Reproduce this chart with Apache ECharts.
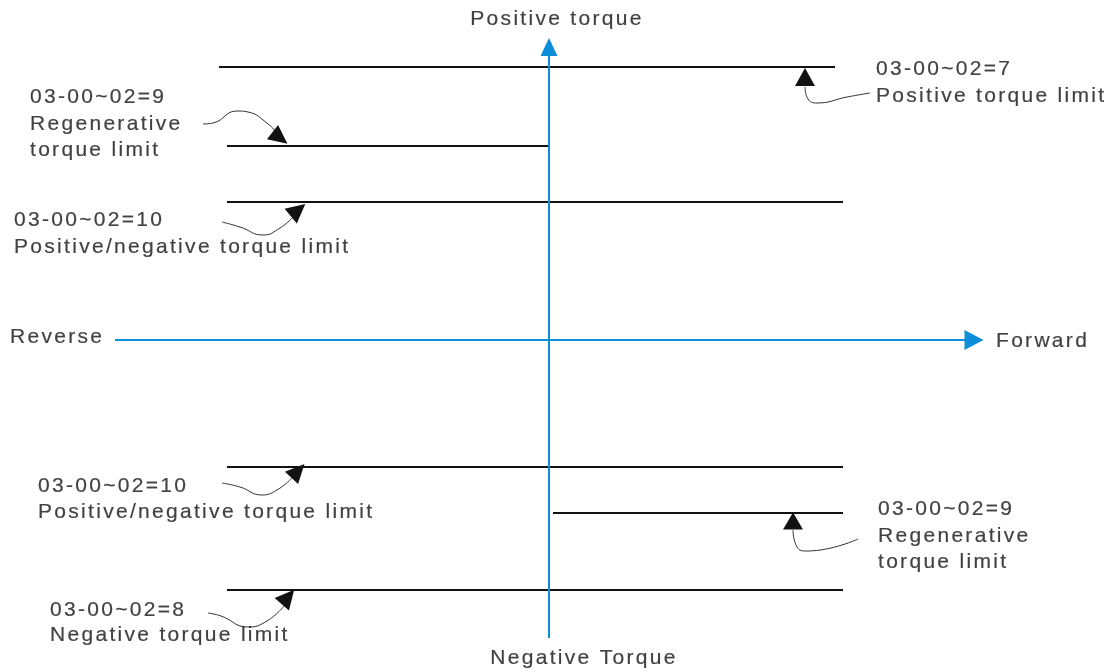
<!DOCTYPE html>
<html>
<head>
<meta charset="utf-8">
<script src="https://cdn.jsdelivr.net/npm/echarts@6/dist/echarts.min.js"></script>
<style>
  html, body { margin: 0; padding: 0; background: #fff; }
  #chart { width: 1110px; height: 669px; }
</style>
</head>
<body>
<div id="chart"></div>
<script>
// diagram space = 1110 x 669, y grows downwards
var limitLevels = [67, 146, 202, 467, 513, 590];
var limitStarts = [219, 227, 227, 227, 553, 227];
var limitEnds = [835, 549, 843, 843, 843, 843];

// blue axes: [x1, y1, x2, y2]
var axisSegments = [[115, 340, 966, 340], [549, 638, 549, 52]];
// arrow heads: [x, y, rotate, width, height]
var axisHeads = [[974, 340, -90, 20, 19], [549, 47, 0, 17, 18]];
var pointerHeads = [
  [805, 77, 0, 20, 18],
  [280, 138, -128, 18, 19],
  [298, 210, -50, 19, 19],
  [298, 471, -43, 18, 19],
  [793, 521, 0, 20, 17],
  [288, 597, -41, 19, 19]
];

// leader curves
var leader7 = [[870, 93], [847, 97], [817, 103], [808, 99], [805, 87]];
var leader9a = [[203, 124], [213, 123], [237, 111], [248, 112], [267, 123], [277, 133]];
var leader10a = [[222, 222], [240, 227], [263, 235], [280, 228], [293, 217]];
var leader10b = [[222, 483], [240, 487], [262, 495], [277, 490], [292, 478]];
var leader9b = [[858, 539], [807, 551], [797, 547], [793, 530]];
var leader8 = [[208, 613], [221, 616], [248, 627], [267, 621], [284, 606]];
var leaders = [leader7, leader9a, leader10a, leader10b, leader9b, leader8];

// texts: [x, y, text, align]
var texts = [
  [557, 19, 'Positive torque', 'center'],
  [876, 69, '03-00~02=7', 'left'],
  [876, 96, 'Positive torque limit', 'left'],
  [30, 97, '03-00~02=9', 'left'],
  [30, 124, 'Regenerative', 'left'],
  [30, 150, 'torque limit', 'left'],
  [14, 220, '03-00~02=10', 'left'],
  [14, 247, 'Positive/negative torque limit', 'left'],
  [10, 337, 'Reverse', 'left'],
  [996, 341, 'Forward', 'left'],
  [38, 486, '03-00~02=10', 'left'],
  [38, 512, 'Positive/negative torque limit', 'left'],
  [878, 509, '03-00~02=9', 'left'],
  [878, 536, 'Regenerative', 'left'],
  [878, 562, 'torque limit', 'left'],
  [50, 610, '03-00~02=8', 'left'],
  [50, 635, 'Negative torque limit', 'left'],
  [584, 658, 'Negative Torque', 'center']
];

// the drawing's lettering is tracked wide
var baseFillText = CanvasRenderingContext2D.prototype.fillText;
var baseStrokeText = CanvasRenderingContext2D.prototype.strokeText;
CanvasRenderingContext2D.prototype.fillText = function (t, x, y, m) {
  this.letterSpacing = '2.3px';
  return m === undefined ? baseFillText.call(this, t, x, y) : baseFillText.call(this, t, x, y, m);
};
CanvasRenderingContext2D.prototype.strokeText = function (t, x, y, m) {
  this.letterSpacing = '2.3px';
  return m === undefined ? baseStrokeText.call(this, t, x, y) : baseStrokeText.call(this, t, x, y, m);
};

var blue = '#0c8fd8';
var ink = '#141112';

var limitData = limitLevels.map(function (y, i) {
  return { coords: [[limitStarts[i], y], [limitEnds[i], y]] };
});
var axisData = axisSegments.map(function (s) {
  return { coords: [[s[0], s[1]], [s[2], s[3]]] };
});

function headSeries(list, color) {
  return {
    type: 'scatter',
    silent: true,
    symbol: 'triangle',
    itemStyle: { color: color, opacity: 1 },
    data: list.map(function (h) {
      return { value: [h[0], h[1]], symbolRotate: h[2], symbolSize: [h[3], h[4]] };
    }),
    z: 5
  };
}

var series = [
  {
    type: 'lines',
    coordinateSystem: 'cartesian2d',
    silent: true,
    lineStyle: { color: ink, width: 2, opacity: 1 },
    data: limitData
  },
  {
    type: 'lines',
    coordinateSystem: 'cartesian2d',
    silent: true,
    lineStyle: { color: blue, width: 2, opacity: 1 },
    data: axisData
  },
  headSeries(axisHeads, blue),
  headSeries(pointerHeads, ink)
];

leaders.forEach(function (pts) {
  series.push({
    type: 'line',
    silent: true,
    smooth: 0.5,
    showSymbol: false,
    symbol: 'none',
    lineStyle: { color: '#333', width: 1 },
    data: pts
  });
});

series.push({
  type: 'scatter',
  silent: true,
  symbolSize: 0,
  data: texts.map(function (t) {
    return {
      value: [t[0], t[1]],
      name: t[2],
      label: { align: t[3] }
    };
  }),
  label: {
    show: true,
    position: 'inside',
    verticalAlign: 'middle',
    formatter: '{b}',
    color: ink,
    textBorderColor: ink,
    textBorderWidth: 0.2,
    fontSize: 21,
    fontFamily: '"Liberation Sans", Arial, sans-serif'
  },
  z: 10
});

var chart = echarts.init(document.getElementById('chart'), null, { renderer: 'canvas' });
chart.setOption({
  animation: false,
  backgroundColor: '#fff',
  grid: { left: 0, right: 0, top: 0, bottom: 0 },
  xAxis: { type: 'value', min: 0, max: 1110, show: false },
  yAxis: { type: 'value', min: 0, max: 669, inverse: true, show: false },
  series: series
});
</script>
</body>
</html>
